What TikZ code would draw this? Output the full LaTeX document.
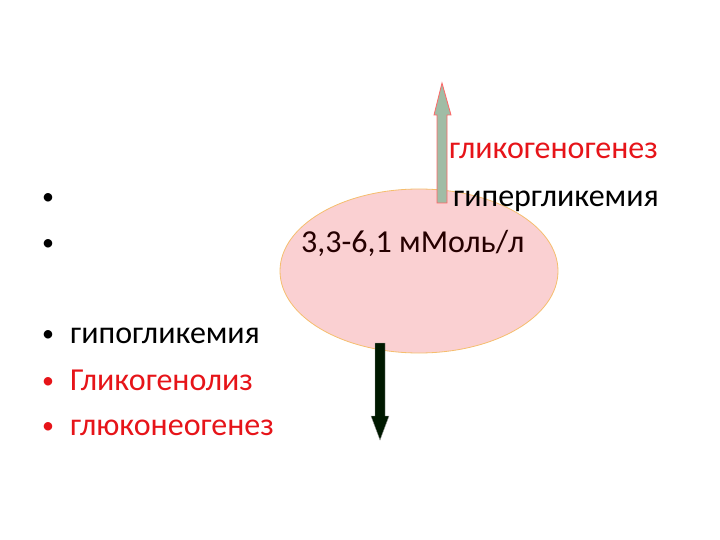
\documentclass[tikz,border=0pt]{standalone}
\usepackage{fontspec}
\setmainfont{Carlito}
\usetikzlibrary{positioning,calc,shapes.geometric}

\definecolor{slidered}{RGB}{230,20,25}
\definecolor{pinkfill}{RGB}{250,208,210}
\definecolor{orangeline}{RGB}{245,190,110}
\definecolor{shaftgreen}{RGB}{160,188,165}

\begin{document}
\begin{tikzpicture}[x=1pt,y=-1pt,
txt/.style={anchor=base west, inner sep=0pt, font=\fontsize{32}{38}\selectfont},
rtxt/.style={txt, text=slidered},
dot/.style={anchor=base, inner sep=0pt, font=\fontsize{24}{28}\selectfont},
rdot/.style={dot, text=slidered},
upar/.style={fill=shaftgreen, draw=red!60!white, line width=0.8pt},
dnar/.style={fill=black!90!green, draw=black!40, line width=0.4pt}
]
\useasboundingbox (0,0) rectangle (720,540);
% the pool
\node[ellipse, draw=orangeline, fill=pinkfill, line width=0.8pt,
  minimum width=278pt, minimum height=164pt, inner sep=0pt] (pool) at (419,271) {};
% arrow up
\filldraw[upar] (437,203) -- (437,115) -- (434,115) -- (442,83)
  -- (451,115) -- (447,115) -- (447,203) -- cycle;
% arrow down
\filldraw[dnar] (375,343) -- (385,343) -- (385,416) -- (389,416)
  -- (380,440) -- (371,416) -- (375,416) -- cycle;
% upper text
\node[rtxt] (glgen) at (449,159) {гликогеногенез};
\node[txt] (hyper) at (453,207) {гипергликемия};
\node[txt, text=black!85!red] (norm) at (301,252) {3,3-6,1 мМоль/л};
\node[dot] (b1) at (48,205) {•};
\node[dot] (b2) at (48,250) {•};
% lower list
\node[dot] (b3) at (48,341) {•};
\node[rdot] (b4) at (48,388) {•};
\node[rdot] (b5) at (48,433) {•};
\node[txt] (hypo) at (70,343) {гипогликемия};
\node[rtxt] (glyz) at (70,390) {Гликогенолиз};
\node[rtxt] (gneo) at (70,435) {глюконеогенез};
\end{tikzpicture}
\end{document}
